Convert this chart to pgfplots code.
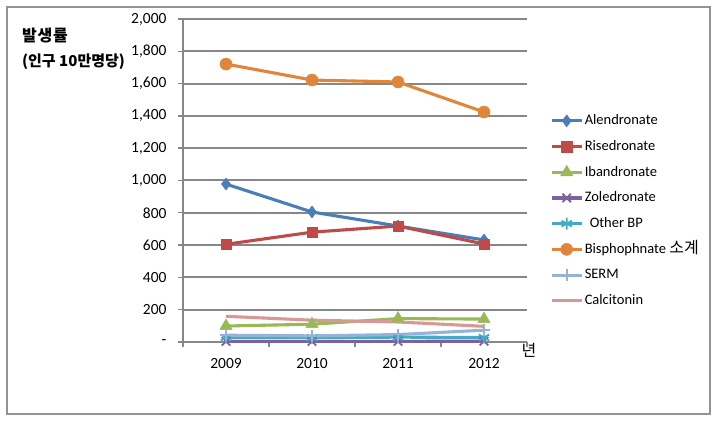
\documentclass[border=0pt]{standalone}
\usepackage{pgfplots}
\pgfplotsset{compat=1.18}
\usepackage{fontspec}
\setmainfont{Carlito}
\newfontfamily\kr{Noto Sans CJK KR}
\definecolor{cA}{HTML}{4A7EBB}
\definecolor{cB}{HTML}{BE4B48}
\definecolor{cC}{HTML}{98B954}
\definecolor{cD}{HTML}{7D60A0}
\definecolor{cE}{HTML}{46AAC5}
\definecolor{cF}{HTML}{E0853A}
\definecolor{cG}{HTML}{95B3D7}
\definecolor{cH}{HTML}{D99795}
\definecolor{gr}{HTML}{878787}
\begin{document}
\begin{tikzpicture}[x=1pt,y=1pt]
\useasboundingbox (0,0) rectangle (718,423);
\fill[white] (0,0) rectangle (718,423);
\draw[color=gr!90, line width=1.8pt] (7,9) rectangle (710,416);
\node[anchor=west, font=\kr\bfseries\fontsize{16}{18}\selectfont, inner sep=0pt] at (22,387) {\addfontfeatures{LetterSpace=5}발생률};
\node[anchor=west, font=\kr\bfseries\fontsize{15}{18}\selectfont, inner sep=0pt] at (22,361) {(인구 10만명당)};
\node[font=\kr\fontsize{16}{18}\selectfont, inner sep=0pt] at (529,73) {년};
\begin{axis}[
  at={(183pt,81pt)}, anchor=south west,
  scale only axis, width=344pt, height=323pt,
  xmin=2008.5, xmax=2012.5, ymin=0, ymax=2000,
  axis x line*=bottom, axis y line*=left,
  axis line style={gr, line width=2pt, -},
  xtick={2009,2010,2011,2012},
  xticklabels={2009,2010,2011,2012},
  minor xtick={2008.5,2009.5,2010.5,2011.5,2012.5},
  major x tick style={draw=none},
  minor x tick style={gr, line width=1.4pt},
  ytick={0,200,...,2000},
  yticklabels={-,200,400,600,800,{1,000},{1,200},{1,400},{1,600},{1,800},{2,000}},
  ytick style={gr, line width=1.4pt},
  tick align=outside, major tick length=5pt, minor tick length=5pt,
  ymajorgrids, major grid style={gr, line width=2pt},
  tick label style={font=\fontsize{15.5}{18}\selectfont},
  xticklabel style={yshift=-8pt},
  yticklabel style={xshift=-8pt},
  clip=false,
  legend style={draw=none, fill=none, at={(1.058,0.717)}, anchor=north west,
    font=\fontsize{14.5}{17}\selectfont, row sep=9.2pt,
    nodes={inner sep=1.5pt, text height=10.5pt, text depth=3pt}},
  legend cell align=left,
  legend image code/.code={\draw[mark repeat=2,mark phase=2,#1] plot coordinates {(0pt,0pt)(15pt,0pt)(30pt,0pt)};},
  every axis plot/.append style={line width=3.1pt},
]
\addplot[cA, mark=diamond*, mark size=6pt, mark options={solid, fill=cA, line width=0.5pt}] coordinates {(2009,978)(2010,805)(2011,718)(2012,632)};
\addlegendentry{Alendronate}
\addplot[cB, mark=square*, mark size=5.2pt, mark options={solid, fill=cB, line width=0.5pt}] coordinates {(2009,605)(2010,680)(2011,718)(2012,607)};
\addlegendentry{Risedronate}
\addplot[cC, mark=triangle*, mark size=7pt, mark options={solid, fill=cC, line width=0.5pt}] coordinates {(2009,99)(2010,110)(2011,145)(2012,142)};
\addlegendentry{Ibandronate}
\addplot[cD, mark=x, mark size=6pt, mark options={solid, line width=1.8pt}] coordinates {(2009,4)(2010,4)(2011,4)(2012,5)};
\addlegendentry{Zoledronate}
\addplot[cE, mark=asterisk, mark size=6pt, mark options={solid, line width=1.8pt}] coordinates {(2009,28)(2010,27)(2011,30)(2012,28)};
\addlegendentry{\hspace{5pt}Other BP}
\addplot[cF, mark=*, mark size=6pt, mark options={solid, fill=cF, line width=0.5pt}] coordinates {(2009,1721)(2010,1622)(2011,1610)(2012,1424)};
\addlegendentry{Bisphophnate {\kr\fontsize{16}{17}\selectfont 소계}}
\addplot[cG, mark=+, mark size=6pt, mark options={solid, line width=1.8pt}] coordinates {(2009,42)(2010,38)(2011,46)(2012,73)};
\addlegendentry{SERM}
\addplot[cH] coordinates {(2009,159)(2010,135)(2011,124)(2012,97)};
\addlegendentry{Calcitonin}
\end{axis}
\end{tikzpicture}
\end{document}
